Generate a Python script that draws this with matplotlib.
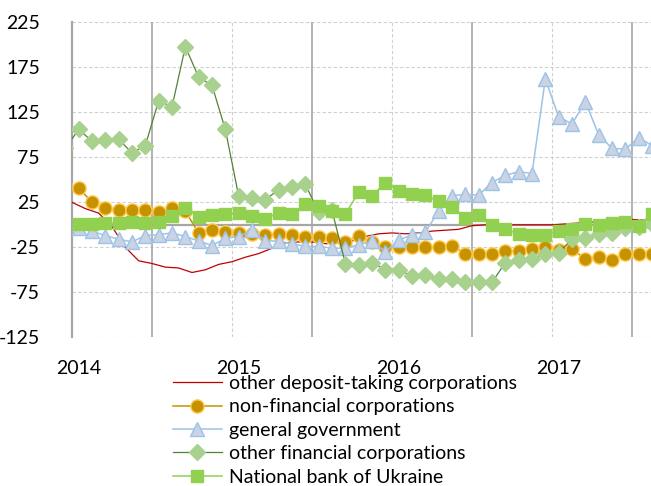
import numpy as np
import matplotlib
matplotlib.use("Agg")
import matplotlib.pyplot as plt

plt.rcParams["font.family"] = ["Lato", "DejaVu Sans"]
plt.rcParams["axes.unicode_minus"] = False

# monthly observations, Dec 2013 .. Aug 2017 (mid-month points)
months = np.arange(-1, 44)
# other deposit-taking corporations (smooth line, month starts Jan 2014 .. Aug 2017)
odc = [25, 18, 13, -2, -25, -40, -43, -47, -48, -53, -50, -44, -41, -36, -32,
       -26, -20, -19, -19, -21, -20, -18, -13, -10, -9, -10, -9, -7, -6, -5,
       -1, 0, 0, 0, 0, 0, 0, 1, 2, 3, 4, 5, 6, 5]
nfc = [44, 41, 25, 19, 16, 16, 16, 14, 19, 15, -9, -6, -8, -9, -10, -11, -10,
       -11, -13, -13, -15, -19, -12, -19, -25, -25, -25, -25, -25, -23, -32,
       -32, -32, -29, -29, -27, -25, -28, -27, -38, -36, -39, -32, -32, -32]
gg = [-3, -4, -7, -12, -16, -19, -12, -11, -9, -13, -18, -23, -15, -13, -6,
      -18, -18, -21, -24, -24, -26, -26, -22, -18, -30, -17, -11, -8, 15, 32,
      34, 33, 47, 55, 59, 57, 162, 120, 112, 137, 100, 85, 84, 97, 88]
ofc = [85, 106, 93, 94, 95, 80, 88, 138, 131, 198, 164, 155, 106, 32, 30, 28,
       39, 42, 45, 14, 16, -43, -45, -42, -50, -50, -57, -56, -60, -60, -64,
       -64, -64, -42, -39, -38, -32, -31, -16, -15, -10, -9, -4, -2, 1]
nbu = [0, 0.5, 1, 2, 2, 3.5, 1.5, 3, 10, 19, 9, 10.5, 11.5, 13, 10, 7, 13, 12,
       23, 21, 15, 12, 36, 32, 47, 38, 34, 33, 26, 20, 8, 11, 0, -5, -10, -11,
       -11, -7, -5, 0.5, 0, 2.5, 3.5, -1, 12.5]

series_labels = ["other deposit-taking corporations", "non-financial corporations",
                 "general government", "other financial corporations",
                 "National bank of Ukraine"]
years = [2014, 2015, 2016, 2017]
yticks = [-125, -75, -25, 25, 75, 125, 175, 225]

x_mid = 2014 + (months + 0.5) / 12
x_odc = 2014 + np.arange(len(odc)) / 12

fig = plt.figure(figsize=(6.51, 4.86), dpi=100)
ax = fig.add_axes([0.1106, 0.306, 0.8894, 0.648])

ax.plot(x_odc, odc, color="#C00000", lw=0.9, label=series_labels[0], zorder=3)
ax.plot(x_mid, nfc, color="#C69200", lw=1.1, marker="o", ms=9.5,
        mfc="#C69200", mec="#FFC94D", mew=1.0, label=series_labels[1], zorder=4)
ax.plot(x_mid, gg, color="#9DC3E6", lw=1.1, marker="^", ms=10.5,
        mfc="#C9D3E3", mec="#9DC3E6", mew=1.0, label=series_labels[2], zorder=5)
ax.plot(x_mid, ofc, color="#548235", lw=0.9, marker="D", ms=8.5,
        mfc="#A9D18E", mec="#A9D18E", label=series_labels[3], zorder=6)
ax.plot(x_mid, nbu, color="#92D050", lw=1.1, marker="s", ms=9,
        mfc="#92D050", mec="#92D050", label=series_labels[4], zorder=7)

ax.set_xlim(2014, 2014 + 579 / 160)
ax.set_ylim(-125, 225)

# grid: dashed horizontals, solid zero line, mixed verticals
for y in yticks:
    ax.axhline(y, color="#D0D0D0", lw=0.8, ls=(0, (3, 2)), zorder=1)
ax.axhline(0, color="#A6A6A6", lw=1.6, zorder=2)
for xv in [2014.5, 2015.5, 2016.5, 2017.5]:
    ax.axvline(xv, color="#A6A6A6", lw=1.2, zorder=1)
for xv in [2015, 2016, 2017]:
    ax.axvline(xv, color="#D0D0D0", lw=0.8, ls=(0, (3, 2)), zorder=1)

for s in ["top", "right", "bottom"]:
    ax.spines[s].set_visible(False)
ax.spines["left"].set_color("#A6A6A6")
ax.spines["left"].set_linewidth(1.6)

ax.set_yticks(yticks)
ax.set_xticks([y + 1 / 24 for y in years])
ax.set_xticklabels([str(y) for y in years])
ax.tick_params(axis="y", length=0, pad=23, labelsize=14)
ax.tick_params(axis="x", length=0, pad=16, labelsize=14)

fig.legend(loc="upper left", bbox_to_anchor=(173 / 651, 1 - 375 / 486),
           frameon=False, fontsize=14, handlelength=2.5, handletextpad=0.4,
           labelspacing=0.33, borderpad=0, borderaxespad=0)

fig.savefig("out.png", dpi=100)
